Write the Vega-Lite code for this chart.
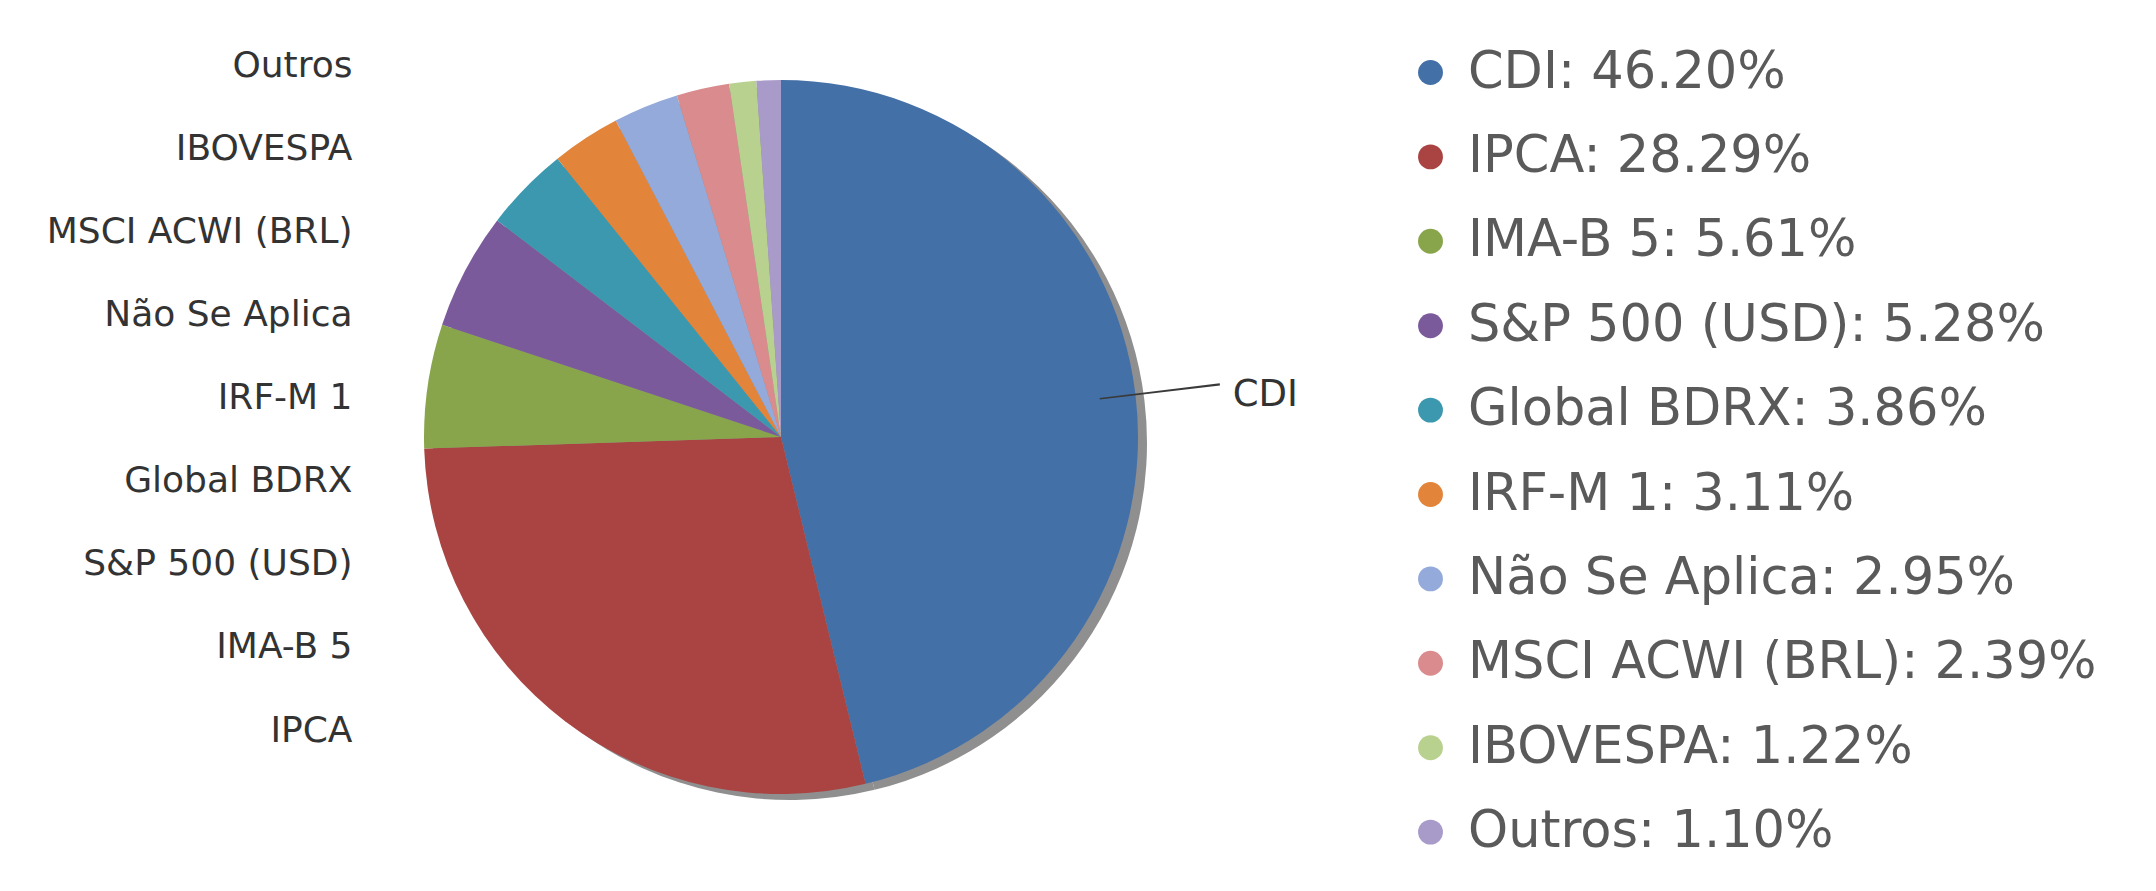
{
  "$schema": "https://vega.github.io/schema/vega-lite/v6.json",
  "autosize": "none",
  "width": 802,
  "height": 714,
  "padding": {"left": 380, "top": 80, "right": 974, "bottom": 97},
  "background": "white",
  "config": {"view": {"stroke": null}, "font": "DejaVu Sans"},
  "data": {
    "values": [
      {"name": "CDI", "value": 46.20},
      {"name": "IPCA", "value": 28.29},
      {"name": "IMA-B 5", "value": 5.61},
      {"name": "S&P 500 (USD)", "value": 5.28},
      {"name": "Global BDRX", "value": 3.86},
      {"name": "IRF-M 1", "value": 3.11},
      {"name": "Não Se Aplica", "value": 2.95},
      {"name": "MSCI ACWI (BRL)", "value": 2.39},
      {"name": "IBOVESPA", "value": 1.22},
      {"name": "Outros", "value": 1.10}
    ]
  },
  "transform": [
    {"calculate": "datum.name + ': ' + format(datum.value, '.2f') + '%'", "as": "legendLabel"}
  ],
  "layer": [
    {
      "mark": {"type": "arc", "xOffset": 9, "yOffset": 6, "color": "#8f8f8f"},
      "encoding": {
        "theta": {"field": "value", "type": "quantitative", "stack": true},
        "order": {"field": "value", "sort": "descending"}
      }
    },
    {
      "mark": {"type": "arc"},
      "encoding": {
        "theta": {"field": "value", "type": "quantitative", "stack": true},
        "order": {"field": "value", "sort": "descending"},
        "color": {
          "field": "legendLabel",
          "type": "nominal",
          "sort": {"field": "value", "op": "sum", "order": "descending"},
          "scale": {"range": ["#4470A8", "#A94442", "#88A54C", "#7B5A9C", "#3B98AE", "#E2853A", "#93AADB", "#D98B8E", "#B9D18E", "#A99BC9"]},
          "legend": {
            "orient": "none",
            "legendX": 1025,
            "legendY": -33,
            "title": null,
            "padding": 0,
            "symbolType": "circle",
            "symbolSize": 620,
            "symbolStrokeWidth": 0,
            "labelFont": "DejaVu Sans",
            "labelFontSize": 51,
            "labelColor": "#5a5a5a",
            "labelOffset": 12,
            "labelLimit": 0,
            "rowPadding": 32.4
          }
        }
      }
    },
    {
      "transform": [
        {"window": [{"op": "sum", "field": "value", "as": "cum"}], "sort": [{"field": "value", "order": "descending"}], "frame": [null, 0]},
        {"joinaggregate": [{"op": "sum", "field": "value", "as": "total"}]},
        {"filter": "datum.name === 'CDI'"},
        {"calculate": "2 * PI * (datum.cum - datum.value / 2) / datum.total - 0.0025", "as": "a0"},
        {"calculate": "2 * PI * (datum.cum - datum.value / 2) / datum.total + 0.0025", "as": "a1"}
      ],
      "mark": {"type": "arc", "radius": 321, "radius2": 442, "color": "#3a3a3a"},
      "encoding": {
        "theta": {"field": "a0", "type": "quantitative", "scale": null},
        "theta2": {"field": "a1"}
      }
    },
    {
      "mark": {"type": "text", "radius": 455, "align": "left", "baseline": "middle", "dy": 12, "fontSize": 37, "font": "DejaVu Sans", "color": "#333333"},
      "encoding": {
        "theta": {"field": "value", "type": "quantitative", "stack": true},
        "order": {"field": "value", "sort": "descending"},
        "text": {"condition": {"test": "datum.name === 'CDI'", "field": "name"}, "value": ""}
      }
    },
    {
      "transform": [{"filter": "datum.name !== 'CDI'"}],
      "mark": {"type": "point", "opacity": 0},
      "encoding": {
        "y": {
          "field": "name",
          "type": "nominal",
          "scale": {"type": "point", "padding": 0, "domain": ["Outros", "IBOVESPA", "MSCI ACWI (BRL)", "Não Se Aplica", "IRF-M 1", "Global BDRX", "S&P 500 (USD)", "IMA-B 5", "IPCA"], "range": [-15, 650]},
          "axis": {"title": null, "domain": false, "ticks": false, "grid": false, "labelFont": "DejaVu Sans", "labelFontSize": 36, "labelColor": "#333333", "labelPadding": 28, "labelLimit": 0}
        }
      }
    }
  ]
}
